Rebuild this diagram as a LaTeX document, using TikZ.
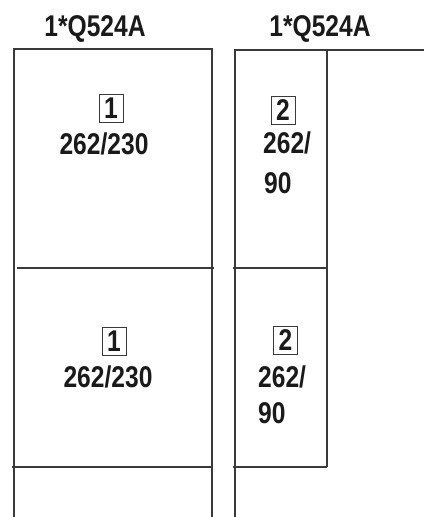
\documentclass[tikz,border=0pt]{standalone}
\usepackage{fontspec}
\newfontfamily\narrowsans{Liberation Sans}[FakeStretch=0.82]
\definecolor{ink}{HTML}{1A1A1A}
\definecolor{rule}{HTML}{3A3A3A}

\begin{document}
\begin{tikzpicture}[
  x=1pt, y=-1pt,
  every path/.style={line cap=butt},
  wall/.style={rule, line width=1.3pt},
  label/.style={ink, font=\narrowsans\bfseries\fontsize{30}{35}\selectfont, inner sep=0pt},
  numbox/.style={label, draw=rule, line width=1pt, minimum width=24pt, minimum height=28pt},
]
\useasboundingbox (0,0) rectangle (424,517);

% ---------- column titles ----------
\node[label, anchor=base] (titleL) at (95,36)  {1*Q524A};
\node[label, anchor=base] (titleR) at (320,36) {1*Q524A};

% ---------- left cabinet ----------
\draw[wall] (14,517) -- (14,49) -- (212,49) -- (212,517);
\draw[wall] (17,268) -- (214,268);
\draw[wall] (12,467) -- (212,467);

% ---------- right cabinet ----------
\draw[wall] (235,517) -- (235,50) -- (424,50);
\draw[wall] (327,50) -- (327,467);
\draw[wall] (233,268) -- (327,268);
\draw[wall] (233,467) -- (327,467);

% ---------- device labels ----------
\node[numbox] (posA) at (111,108) {1};
\node[label, anchor=base] (typeA) at (104,154) {262/230};

\node[numbox] (posB) at (114,341.5) {1};
\node[label, anchor=base] (typeB) at (108,387) {262/230};

\node[numbox] (posC) at (283,110) {2};
\node[label, anchor=base west] (typeC1) at (263,153) {262/};
\node[label, anchor=base west] (typeC2) at (264,193) {90};

\node[numbox] (posD) at (285.5,340.5) {2};
\node[label, anchor=base west] (typeD1) at (258,387) {262/};
\node[label, anchor=base west] (typeD2) at (258,423) {90};

\end{tikzpicture}
\end{document}
